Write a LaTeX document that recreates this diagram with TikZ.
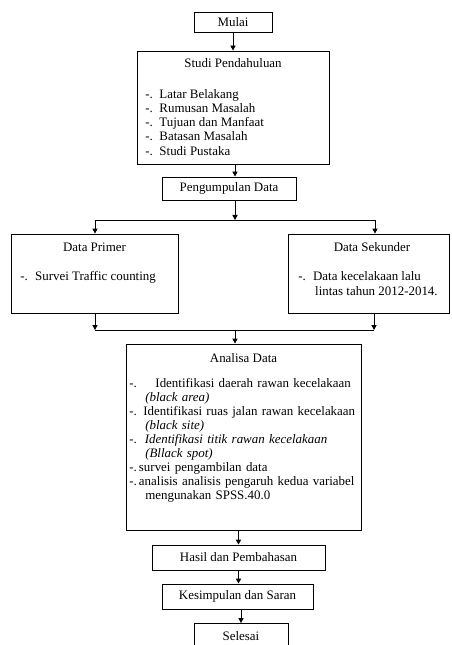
\documentclass[tikz,border=0pt]{standalone}
\usepackage{fontspec}
\setmainfont{Liberation Serif}
\usetikzlibrary{arrows.meta}
\newdimen\pix \pix=0.75pt
\newdimen\linewd \linewd=169.5pt

\begin{document}
\begin{tikzpicture}[x=0.75pt, y=-0.75pt, font=\fontsize{9.7}{11.25}\selectfont]
  % Define box, arrow and text styles
  \tikzset{box/.style={draw=black, line width=0.7pt, inner sep=0pt}}
  \tikzset{flow/.style={draw=black, line width=0.7pt, -{Triangle[length=3.75pt, width=3.9pt]}}}
  \tikzset{plain/.style={draw=black, line width=0.7pt}}
  \tikzset{listtext/.style={inner sep=0pt, anchor=north west, align=left}}
  \useasboundingbox (0,0) rectangle (452,645);

  % Boxes of the flow
  \node[box, minimum width=78\pix, minimum height=20\pix] (Mulai) at (233,22) {Mulai};
  \node[box, minimum width=192\pix, minimum height=113\pix] (Studi) at (233,107.5) {};
  \node[box, minimum width=134\pix, minimum height=23\pix] (Pengumpulan) at (229,188.5) {Pengumpulan Data};
  \node[box, minimum width=167\pix, minimum height=79\pix] (Primer) at (94.5,273.5) {};
  \node[box, minimum width=161\pix, minimum height=79\pix] (Sekunder) at (368.5,273.5) {};
  \node[box, minimum width=235\pix, minimum height=186\pix] (Analisa) at (243.5,437) {};
  \node[box, minimum width=173\pix, minimum height=25\pix] (Hasil) at (238.5,557.5) {Hasil dan Pembahasan};
  \node[box, minimum width=151\pix, minimum height=25\pix] (Kesimpulan) at (237.5,596.5) {Kesimpulan dan Saran};
  \node[box, minimum width=94\pix, minimum height=25\pix, anchor=north] (Selesai) at (241,623) {Selesai};

  % Texts inside the large boxes
  \node (StudiTitle) at (233,63) {Studi Pendahuluan};
  \node[listtext, font=\fontsize{9.7}{10.65}\selectfont] (StudiList) at (145,89) {%
    -.\hspace{5pt}Latar Belakang\\
    -.\hspace{5pt}Rumusan Masalah\\
    -.\hspace{5pt}Tujuan dan Manfaat\\
    -.\hspace{5pt}Batasan Masalah\\
    -.\hspace{5pt}Studi Pustaka};
  \node (PrimerTitle) at (94.5,247) {Data Primer};
  \node[listtext] (PrimerList) at (20,271.5) {-.\hspace{5.5pt}Survei Traffic counting};
  \node (SekunderTitle) at (372,247) {Data Sekunder};
  \node[listtext] (SekunderList) at (298,271.5) {%
    -.\hspace{5.5pt}Data kecelakaan lalu\\
    \hspace*{12.7pt}lintas tahun 2012-2014.};
  \node (AnalisaTitle) at (243.5,358) {Analisa Data};
  \node[listtext, text width=\linewd, font=\fontsize{9.7}{10.5}\selectfont] (AnalisaList) at (129,378) {%
    \makebox[\linewd][s]{-.\hspace{14pt}Identifikasi daerah rawan kecelakaan}\\
    \hspace*{12pt}\textit{(black area)}\\
    \makebox[\linewd][s]{-. Identifikasi ruas jalan rawan kecelakaan}\\
    \hspace*{12pt}\textit{(black site)}\\
    \makebox[\linewd][s]{-.\hspace{6pt}\textit{Identifikasi titik rawan kecelakaan}}\\
    \hspace*{12pt}\textit{(Bllack spot)}\\
    -.\,survei pengambilan data\\
    \makebox[\linewd][s]{-.\,analisis analisis pengaruh kedua variabel}\\
    \hspace*{12pt}mengunakan SPSS.40.0};

  % Branch and join points
  \coordinate (Split) at (235,220);
  \coordinate (PrimerIn) at (95,220);
  \coordinate (SekunderIn) at (375,220);
  \coordinate (PrimerOut) at (95,330);
  \coordinate (SekunderOut) at (374,330);
  \coordinate (Merge) at (235,330);

  % Connectors
  \draw[flow] (Mulai.south) -- (Mulai.south |- Studi.north);
  \draw[flow] (Studi.south -| Split) -- (Split |- Pengumpulan.north);
  \draw[flow] (Pengumpulan.south -| Split) -- (Split);
  \draw[plain] (PrimerIn) -- (SekunderIn);
  \draw[flow] (PrimerIn) -- (PrimerIn |- Primer.north);
  \draw[flow] (SekunderIn) -- (SekunderIn |- Sekunder.north);
  \draw[flow] (Primer.south -| PrimerOut) -- (PrimerOut);
  \draw[flow] (Sekunder.south -| SekunderOut) -- (SekunderOut);
  \draw[plain] (PrimerOut) -- (SekunderOut);
  \draw[flow] (Merge) -- (Merge |- Analisa.north);
  \draw[flow] (Hasil.north |- Analisa.south) -- (Hasil.north);
  \draw[flow] (Hasil.south) -- (Hasil.south |- Kesimpulan.north);
  \draw[flow] (Kesimpulan.south -| Selesai) -- (Selesai.north);
\end{tikzpicture}
\end{document}
